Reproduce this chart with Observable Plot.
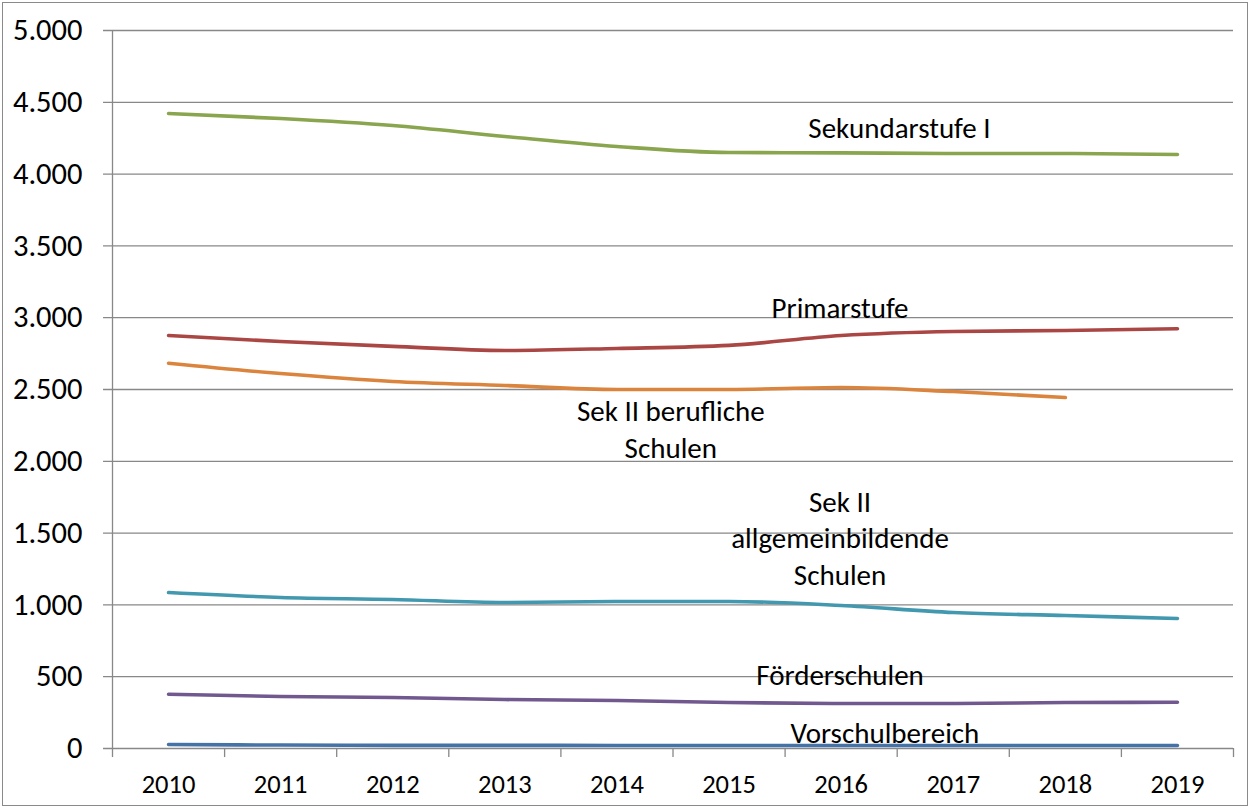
<!DOCTYPE html>
<html><head><meta charset="utf-8">
<script src="https://cdn.jsdelivr.net/npm/d3@7"></script>
<script src="https://cdn.jsdelivr.net/npm/@observablehq/plot@0.6"></script>
<style>
body{margin:0;background:#fff;}
#wrap{position:absolute;left:2px;top:2px;width:1246px;height:804px;border:1.5px solid #8a8a8a;box-sizing:border-box;}
#chart{position:absolute;left:0;top:0;}
</style></head>
<body><div id="wrap"></div><div id="chart"></div>
<script>
const years = [2010, 2011, 2012, 2013, 2014, 2015, 2016, 2017, 2018, 2019];
const seriesNames = ["Sekundarstufe I", "Primarstufe", "Sek II berufliche Schulen", "Sek II allgemeinbildende Schulen", "Förderschulen", "Vorschulbereich"];
const sekI      = [4422, 4387, 4338, 4262, 4192, 4150, 4148, 4143, 4143, 4136];
const primar    = [2876, 2834, 2800, 2772, 2786, 2807, 2876, 2904, 2911, 2923];
const sekIIberuf= [2683, 2611, 2556, 2528, 2500, 2500, 2514, 2486, 2444, null];
const sekIIallg = [1086, 1052, 1038, 1017, 1024, 1024, 996, 947, 926, 905];
const foerder   = [378, 362, 355, 341, 334, 320, 313, 313, 320, 322];
const vorschul  = [28, 24, 22, 22, 21, 21, 21, 21, 21, 21];
const seriesValues = [sekI, primar, sekIIberuf, sekIIallg, foerder, vorschul];
const colors = ["#89A54E", "#AA4643", "#DB843D", "#4198AF", "#71588F", "#4572A7"];
const labelTexts = ["Sekundarstufe I", "Primarstufe", "Sek II berufliche\nSchulen", "Sek II\nallgemeinbildende\nSchulen", "Förderschulen", "Vorschulbereich"];
const labelX = [2016.52, 2015.99, 2014.48, 2015.99, 2015.99, 2016.39];
const labelY = [4331, 3078, 2232, 1476, 522, 118];
const yTicks = [0, 500, 1000, 1500, 2000, 2500, 3000, 3500, 4000, 4500, 5000];

const de = d3.formatLocale({decimal: ",", thousands: ".", grouping: [3], currency: ["", " €"]});
const fmt = de.format(",d");

const rows = [];
seriesNames.forEach((s, i) => years.forEach((yr, j) => {
  if (seriesValues[i][j] != null) rows.push({series: s, year: yr, value: seriesValues[i][j]});
}));
const labels = labelTexts.map((t, i) => ({t, x: labelX[i], y: labelY[i]}));
const boundaries = [years[0] - 0.5, ...years.map(y => y + 0.5)];

const font = "Carlito, Calibri, Lato, sans-serif";
const plot = Plot.plot({
  width: 1251, height: 809,
  marginLeft: 112, marginRight: 18, marginTop: 30, marginBottom: 61,
  style: {fontFamily: font, background: "transparent", overflow: "visible"},
  x: {domain: [years[0] - 0.5, years[years.length - 1] + 0.5], axis: null},
  y: {domain: [0, 5000], axis: null},
  color: {domain: seriesNames, range: colors},
  marks: [
    Plot.ruleY(yTicks, {y: d => d, x1: years[0] - 0.5 - 0.08, x2: years[years.length - 1] + 0.5, stroke: "#888", strokeWidth: 1.3}),
    Plot.ruleX([years[0] - 0.5], {y1: 0, y2: 5000, stroke: "#888", strokeWidth: 1.3}),
    Plot.ruleX(boundaries, {x: d => d, y1: 0, y2: -63, stroke: "#888", strokeWidth: 1.3}),
    Plot.text(yTicks, {x: years[0] - 0.5, y: d => d, text: d => fmt(d), textAnchor: "end", dx: -30, fontSize: 30.5, fill: "#000"}),
    Plot.text(years, {x: d => d, y: 0, text: d => String(d), dy: 36, fontSize: 26.5, fill: "#000"}),
    Plot.line(rows, {x: "year", y: "value", z: "series", stroke: "series", strokeWidth: 3.6, curve: "monotone-x", strokeLinecap: "round", strokeLinejoin: "round"}),
    Plot.text(labels, {x: "x", y: "y", text: "t", fontSize: 29, lineHeight: 1.27, fill: "#000", lineAnchor: "middle"})
  ]
});
document.getElementById("chart").appendChild(plot);
</script></body></html>
